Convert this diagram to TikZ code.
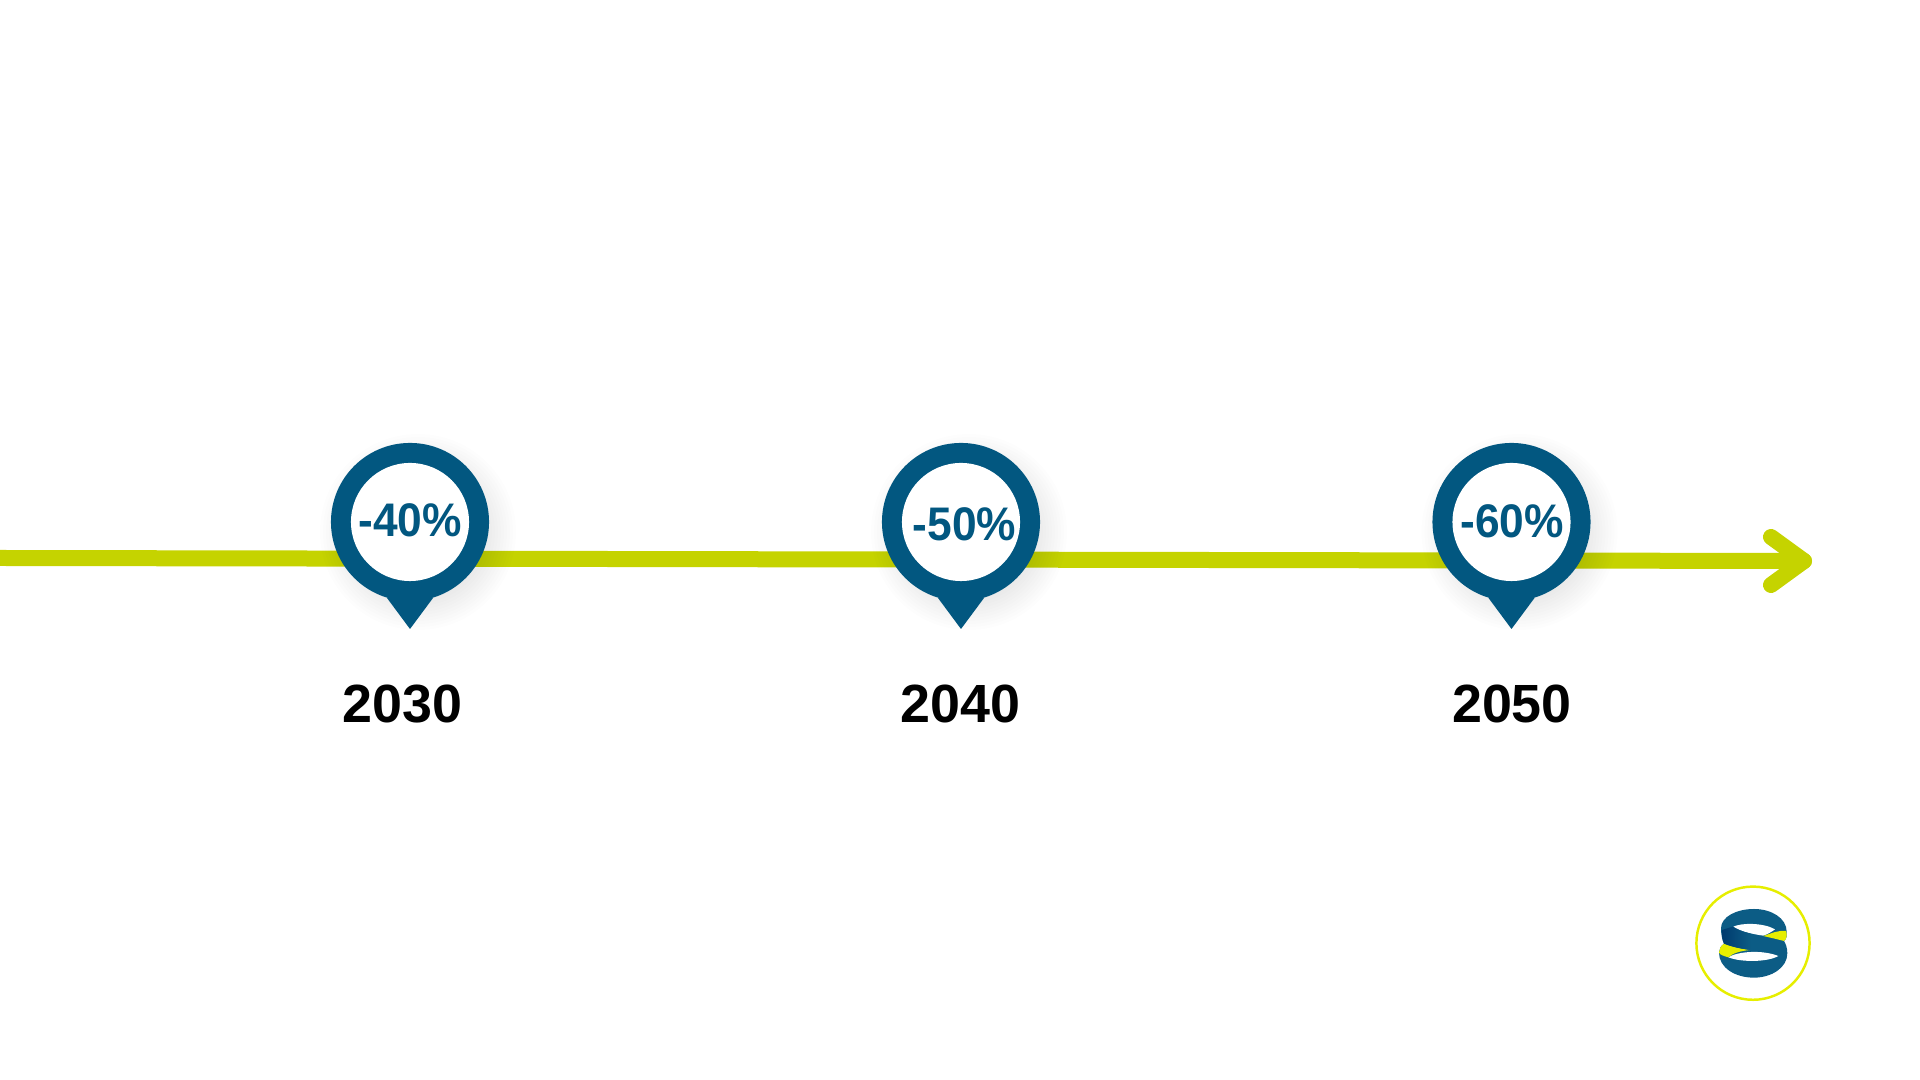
\documentclass[tikz,border=0pt]{standalone}
\usepackage{fontspec}
\usepackage{xcolor}
\usepackage{tikz}
\usetikzlibrary{calc, positioning}
\setmainfont{Liberation Sans}
\newfontfamily\pctfont[FakeStretch=0.94]{Liberation Sans}
\definecolor{pinblue}{RGB}{2,87,128}
\definecolor{linegreen}{RGB}{197,211,0}
\definecolor{logoyellow}{RGB}{230,238,0}
\definecolor{logoblue}{RGB}{12,92,133}
\definecolor{logonavy}{RGB}{0,58,110}

\begin{document}
\begin{tikzpicture}[x=0.01cm, y=-0.01cm, line cap=round, line join=round,
    timeline/.style={draw=linegreen, line width=4.55pt},
    pinhead/.style={circle, fill=pinblue, minimum size=1.58cm, inner sep=0pt},
    pinhole/.style={circle, fill=white, minimum size=1.18cm, inner sep=0pt},
    pctlabel/.style={anchor=base, inner sep=0pt, text=pinblue, font=\pctfont\bfseries\fontsize{13.4}{16}\selectfont},
    yearlabel/.style={anchor=base, inner sep=0pt, font=\bfseries\fontsize{15.3}{18}\selectfont}]
    \useasboundingbox (0,0) rectangle (1920,1080);

    % 1. Trục thời gian và mũi tên
    \coordinate (linestart) at (0,558);
    \coordinate (lineend) at (1804,561);
    \coordinate (armtop) at (1771,537);
    \coordinate (armbot) at (1771,585);
    \draw[timeline] (linestart) -- (lineend);
    \draw[timeline] (armtop) -- (lineend) -- (armbot);

    % 2. Các ghim, nhãn phần trăm và năm
    \foreach \pinx/\pctx/\pcty/\pct/\yearx/\year in {
        410/410/537/-40/402.5/2030,
        961/964.5/541/-50/960.7/2040,
        1511.5/1512/538/-60/1512/2050} {
        \foreach \rad in {62,65,...,98} {
            \fill[black, opacity=0.009] (\pinx+8,532) circle (\rad);
        }
        \node[pinhead] (head\year) at (\pinx,522) {};
        \fill[pinblue] (\pinx-23,598) -- (\pinx,629) -- (\pinx+23,598) -- cycle;
        \node[pinhole] (hole\year) at (\pinx,522) {};
        \node[pctlabel] (pct\year) at (\pctx,\pcty) {\pct\%};
        \node[yearlabel] (year\year) at (\yearx,723) {\year};
    }

    % 3. Logo
    \draw[logoyellow, line width=0.7pt] (1753,943.2) circle (56.6);
    \begin{scope}[shift={(1680,870)}, scale=0.3333]
        \fill[logoblue] (123,175) .. controls (123,140) and (170,117) .. (222,117)
            .. controls (275,117) and (320,145) .. (320,185)
            .. controls (322,195) and (320,207) .. (312,213)
            .. controls (318,222) and (322,235) .. (322,250)
            .. controls (322,293) and (275,323) .. (222,323)
            .. controls (165,323) and (117,293) .. (117,248)
            .. controls (117,238) and (122,228) .. (132,221)
            .. controls (126,210) and (123,190) .. (123,175) -- cycle;
        % lỗ trên và lỗ dưới
        \fill[white] (160,170) .. controls (185,158) and (250,158) .. (285,178)
            .. controls (275,186) and (262,193) .. (250,197)
            .. controls (215,192) and (185,185) .. (160,170) -- cycle;
        \fill[white] (145,262) .. controls (170,245) and (245,238) .. (295,258)
            .. controls (265,276) and (185,278) .. (145,262) -- cycle;
        % phần vàng
        \fill[logoyellow] (250,198) .. controls (275,190) and (295,180) .. (318,183)
            .. controls (322,195) and (320,207) .. (312,213)
            .. controls (290,207) and (270,203) .. (250,198) -- cycle;
        \fill[logoyellow] (117,248) .. controls (117,238) and (122,228) .. (132,221)
            .. controls (155,230) and (180,236) .. (210,240)
            .. controls (180,243) and (158,250) .. (145,262)
            .. controls (132,258) and (120,255) .. (117,248) -- cycle;
        % phần tối bên trái
        \shade[left color=logonavy, right color=logoblue] (126,180) -- (158,170)
            .. controls (172,180) and (190,186) .. (212,191) -- (212,240)
            .. controls (180,236) and (155,230) .. (132,221)
            .. controls (127,210) and (125,195) .. (126,180) -- cycle;
    \end{scope}
\end{tikzpicture}
\end{document}
